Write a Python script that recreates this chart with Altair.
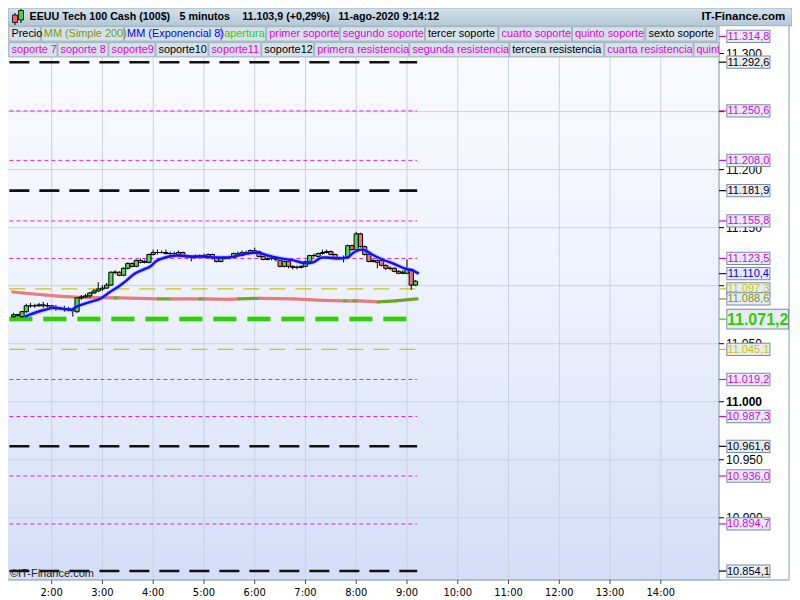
import altair as alt
import pandas as pd

DAY = "2020-08-11"

# ---------------- data ----------------
# 5-minute candles, 01:15 ... 09:10
opens = [11073.3, 11075.0, 11073.3, 11077.6, 11082.7, 11082.7, 11082.7, 11083.5, 11082.7, 11082.7,
         11081.0, 11080.1, 11080.1, 11080.1, 11079.3, 11077.6, 11089.5, 11090.3, 11091.2, 11093.7,
         11095.4, 11097.1, 11098.0, 11100.5, 11111.6, 11111.6, 11109.0, 11115.0, 11119.2, 11116.7,
         11121.8, 11120.1, 11120.1, 11126.9, 11128.6, 11128.6, 11128.6, 11127.7, 11127.7, 11126.9,
         11128.6, 11126.0, 11125.2, 11124.3, 11125.2, 11126.0, 11125.2, 11126.9, 11124.3, 11120.9,
         11123.5, 11124.3, 11124.3, 11127.7, 11126.0, 11128.6, 11128.6, 11130.3, 11129.4, 11125.2,
         11122.6, 11123.5, 11123.5, 11121.8, 11116.7, 11120.9, 11116.7, 11115.8, 11115.8, 11116.7,
         11120.9, 11126.0, 11125.2, 11127.7, 11128.6, 11129.4, 11126.9, 11124.3, 11123.5, 11124.3,
         11134.5, 11131.1, 11144.7, 11133.7, 11126.9, 11120.9, 11120.1, 11121.8, 11117.5, 11115.0,
         11115.0, 11112.4, 11110.7, 11110.7, 11114.1, 11100.5]
highs = [11076.7, 11075.9, 11078.4, 11084.4, 11085.2, 11084.4, 11085.2, 11086.1, 11085.2, 11083.5,
         11083.5, 11081.8, 11082.7, 11081.8, 11081.0, 11090.3, 11092.0, 11092.9, 11094.6, 11097.1,
         11103.1, 11100.5, 11102.3, 11112.4, 11113.3, 11112.4, 11115.8, 11120.1, 11120.1, 11122.6,
         11123.5, 11122.6, 11127.7, 11131.1, 11131.1, 11130.3, 11131.1, 11129.4, 11129.4, 11130.3,
         11129.4, 11126.9, 11126.0, 11126.9, 11126.9, 11127.7, 11127.7, 11127.7, 11125.2, 11124.3,
         11125.2, 11126.0, 11128.6, 11129.4, 11130.3, 11130.3, 11131.1, 11132.8, 11130.3, 11126.0,
         11124.3, 11125.2, 11124.3, 11122.6, 11121.8, 11121.8, 11117.5, 11117.5, 11117.5, 11121.8,
         11126.9, 11127.7, 11128.6, 11131.1, 11131.1, 11130.3, 11127.7, 11125.2, 11126.0, 11135.4,
         11135.4, 11146.4, 11145.6, 11134.5, 11127.7, 11123.5, 11122.6, 11122.6, 11118.4, 11116.7,
         11115.8, 11113.3, 11113.3, 11122.6, 11115.0, 11104.8]
lows = [11072.5, 11073.3, 11072.5, 11076.7, 11081.0, 11081.0, 11081.8, 11081.0, 11081.0, 11080.1,
        11078.4, 11079.3, 11077.6, 11078.4, 11073.3, 11076.7, 11087.8, 11089.5, 11089.5, 11092.9,
        11094.6, 11095.4, 11097.1, 11099.7, 11109.9, 11108.2, 11108.2, 11114.1, 11115.8, 11115.8,
        11119.2, 11119.2, 11119.2, 11126.0, 11126.9, 11127.7, 11126.9, 11126.0, 11126.9, 11126.0,
        11125.2, 11123.5, 11120.9, 11123.5, 11124.3, 11125.2, 11124.3, 11122.6, 11120.1, 11120.1,
        11122.6, 11122.6, 11123.5, 11125.2, 11125.2, 11126.9, 11127.7, 11128.6, 11124.3, 11121.8,
        11121.8, 11121.8, 11120.9, 11115.8, 11115.8, 11115.0, 11114.1, 11114.1, 11115.0, 11115.8,
        11120.1, 11124.3, 11124.3, 11126.9, 11127.7, 11126.0, 11123.5, 11122.6, 11120.1, 11123.5,
        11130.3, 11130.3, 11132.8, 11126.0, 11120.1, 11120.1, 11115.0, 11116.7, 11113.3, 11113.3,
        11111.6, 11109.9, 11109.9, 11109.9, 11096.3, 11099.7]
closes = [11075.0, 11074.2, 11077.6, 11082.7, 11082.7, 11082.7, 11083.5, 11082.7, 11082.7, 11081.0,
          11080.1, 11080.1, 11080.1, 11079.3, 11078.4, 11089.5, 11090.3, 11091.2, 11093.7, 11095.4,
          11097.1, 11098.0, 11100.5, 11111.6, 11111.6, 11109.0, 11115.0, 11119.2, 11116.7, 11121.8,
          11120.1, 11120.9, 11126.9, 11128.6, 11128.6, 11128.6, 11127.7, 11127.7, 11127.7, 11128.6,
          11126.0, 11125.2, 11124.3, 11125.2, 11126.0, 11126.0, 11126.9, 11124.3, 11120.9, 11123.5,
          11124.3, 11124.3, 11127.7, 11126.0, 11128.6, 11128.6, 11130.3, 11130.3, 11125.2, 11122.6,
          11123.5, 11123.5, 11122.6, 11116.7, 11120.9, 11116.7, 11115.8, 11115.8, 11116.7, 11120.9,
          11126.0, 11126.0, 11127.7, 11128.6, 11129.4, 11126.9, 11124.3, 11123.5, 11124.3, 11134.5,
          11131.1, 11144.7, 11133.7, 11126.9, 11120.9, 11121.8, 11121.8, 11117.5, 11115.0, 11115.0,
          11112.4, 11110.7, 11111.6, 11114.1, 11100.5, 11103.9]

# MM (Exponencial 8)
ema_times = ["01:28", "01:52", "02:03", "02:23", "02:29", "02:46", "02:57", "03:09", "03:20", "03:29",
             "03:37", "03:49", "03:57", "04:03", "04:11", "04:19", "04:29", "04:42", "04:57", "05:14",
             "05:29", "05:45", "06:03", "06:15", "06:31", "06:46", "07:01", "07:09", "07:20", "07:26",
             "07:37", "07:49", "07:57", "08:06", "08:11", "08:21", "08:31", "08:46", "08:57", "09:09",
             "09:14"]
ema_vals = [11073.3, 11079.3, 11081.0, 11079.3, 11081.8, 11086.1, 11088.6, 11094.6, 11099.7, 11104.8,
            11109.9, 11114.1, 11116.7, 11120.9, 11123.5, 11125.2, 11126.0, 11125.2, 11125.2, 11124.3,
            11124.3, 11126.9, 11128.6, 11126.0, 11123.5, 11121.8, 11119.2, 11120.1, 11124.3, 11124.3,
            11123.5, 11124.3, 11128.6, 11131.1, 11130.3, 11126.0, 11122.6, 11118.4, 11115.0, 11112.4,
            11110.4]

# MM (Simple 200): value and trend of the segment that starts at each point
sma_times = ["01:14", "01:26", "01:52", "02:11", "02:34", "03:15", "03:20", "04:06", "04:21", "04:55",
             "05:01", "05:31", "05:41", "06:06", "06:46", "07:20", "07:46", "07:51", "07:57", "08:02",
             "08:17", "08:26", "08:46", "09:12"]
sma_vals = [11094.6, 11093.7, 11092.0, 11090.8, 11090.0, 11089.5, 11089.5, 11088.6, 11088.6, 11088.6,
            11088.6, 11088.2, 11088.6, 11089.1, 11088.6, 11087.4, 11086.9, 11086.9, 11086.9, 11086.9,
            11086.5, 11086.1, 11086.9, 11088.6]
sma_trend = ["baja", "baja", "baja", "baja", "baja", "sube", "baja", "sube", "baja", "sube",
             "baja", "baja", "sube", "baja", "baja", "baja", "sube", "baja", "sube", "baja",
             "baja", "sube", "sube", "sube"]

# support / resistance levels
level_vals = [11314.8, 11292.6, 11250.6, 11208.0, 11181.9, 11155.8, 11123.5, 11097.3, 11071.2,
              11045.1, 11019.2, 10987.3, 10961.6, 10936.0, 10894.7, 10854.1]
level_kind = ["magenta", "negro", "magenta", "magenta", "negro", "magenta", "magenta", "amarillo",
              "verde", "amarillo", "magenta", "magenta", "negro", "magenta", "magenta", "negro"]
level_end = "09:12"

# indicator values shown on the price axis
ema_last = 11110.4
sma_last = 11088.6

hour_ticks = list(range(2, 15))
price_grid = [10900, 10950, 11000, 11050, 11100, 11150, 11200, 11250, 11300]
price_labels = [10900, 10950, 11000, 11050, 11150, 11200, 11300]

title_parts = ["EEUU Tech 100 Cash (100$)", "5 minutos", "11.103,9 (+0,29%)", "11-ago-2020 9:14:12"]
site = "IT-Finance.com"

legend_row1 = ["Precio", "MM (Simple 200)", "MM (Exponencial 8)", "apertura", "primer soporte",
               "segundo soporte", "tercer soporte", "cuarto soporte", "quinto soporte", "sexto soporte"]
legend_row1_col = ["negro", "oliva", "azul", "verde", "magenta", "magenta", "negro", "magenta",
                   "magenta", "negro"]
legend_row2 = ["soporte 7", "soporte 8", "soporte9", "soporte10", "soporte11", "soporte12",
               "primera resistencia", "segunda resistencia", "tercera resistencia",
               "cuarta resistencia", "quinta resistencia"]
legend_row2_col = ["magenta", "magenta", "magenta", "negro", "magenta", "negro", "magenta",
                   "magenta", "negro", "magenta", "magenta"]

# ---------------- layout / styles ----------------
SX = 784 / 800
SY = 592 / 600
W = 711
H = 572
Y_MIN, Y_MAX = 10846.4, 11339.3

COL = {"negro": "#000000", "magenta": "#e000e0", "amarillo": "#c8c800", "verde": "#33cc00",
       "azul": "#0000ff", "oliva": "#779910"}

legend_row1_x = [(1, 33), (34, 118), (119, 217), (218, 263), (264, 338), (339, 425), (426, 500),
                 (501, 575), (576, 649), (651, 723)]
legend_row2_x = [(1, 50), (51, 102), (103, 150), (151, 204), (205, 258), (259, 312), (313, 409),
                 (410, 511), (512, 608), (609, 699), (700, 760)]
title_x = [22, 175, 239, 337]

FONT = "Liberation Sans"
NARROW = "Liberation Sans Narrow, Arial Narrow, DejaVu Sans Condensed, Liberation Sans"


def ts(hhmm):
    return f"{DAY}T{hhmm}:00"


def es(v, dec=1):
    s = f"{v:,.{dec}f}"
    return s.replace(",", "_").replace(".", ",").replace("_", ".")


def dt(h, m=0, s=0):
    return alt.DateTime(year=2020, month=8, date=11, hours=h, minutes=m, seconds=s)


x_scale = alt.Scale(domain=[dt(1, 14, 17), dt(15, 2, 53)])
y_scale = alt.Scale(domain=[Y_MIN, Y_MAX], nice=False, zero=False)
one = pd.DataFrame({"k": [0]})


def X(f):
    return alt.X(f, scale=x_scale, axis=None, title=None)


def Y(f):
    return alt.Y(f, scale=y_scale, axis=None, title=None)


# ---------------- tables ----------------
times = pd.date_range(f"{DAY} 01:15", periods=len(closes), freq="5min").strftime("%Y-%m-%dT%H:%M:%S")
velas = pd.DataFrame({"t": times, "o": opens, "h": highs, "l": lows, "c": closes})
velas["dir"] = ["sube" if c > o else ("baja" if c < o else "igual") for o, c in zip(opens, closes)]

ema = pd.DataFrame({"t": [ts(x) for x in ema_times], "v": ema_vals})

sma_seg = pd.DataFrame({
    "t0": [ts(x) for x in sma_times[:-1]], "t1": [ts(x) for x in sma_times[1:]],
    "v0": sma_vals[:-1], "v1": sma_vals[1:], "trend": sma_trend[:-1]})

levels = pd.DataFrame({"v": level_vals, "kind": level_kind})
levels["t0"] = ts("01:10")
levels["t1"] = ts(level_end)

hours_df = pd.DataFrame({"t": [ts(f"{h:02d}:00") for h in hour_ticks],
                         "lab": [f"{h}:00" for h in hour_ticks]})
grid_df = pd.DataFrame({"v": price_grid})
prices_df = pd.DataFrame({"v": price_labels, "lab": [es(v, 0) for v in price_labels]})

# ---------------- layers ----------------
bg = alt.Chart(one).mark_rect(fill=alt.Gradient(
    gradient="linear", x1=0, y1=0, x2=0, y2=1,
    stops=[alt.GradientStop(color="#fbfcff", offset=0), alt.GradientStop(color="#eff3fd", offset=0.45),
           alt.GradientStop(color="#d3def7", offset=1)])).encode(
    x=alt.value(0), x2=alt.value(W), y=alt.value(0), y2=alt.value(H))

vgrid = alt.Chart(hours_df).mark_rule(color="#c9d2e0", strokeWidth=1).encode(x=X("t:T"))
hgrid = alt.Chart(grid_df).mark_rule(color="#c9d2e0", strokeWidth=1).encode(y=Y("v:Q"))

level_styles = {
    "magenta": dict(color="#e020e0", strokeWidth=1, strokeDash=[4, 3]),
    "amarillo": dict(color="#c8c810", strokeWidth=1.3, strokeDash=[16, 10]),
    "negro": dict(color="#111111", strokeWidth=2.6, strokeDash=[20, 10]),
}
level_layers = []
for kind, st in level_styles.items():
    level_layers.append(
        alt.Chart(levels).transform_filter(f"datum.kind == '{kind}'").mark_rule(clip=True, **st)
        .encode(x=X("t0:T"), x2="t1:T", y=Y("v:Q")))
level_layers.append(
    alt.Chart(levels).transform_filter("datum.kind == 'verde'")
    .mark_rule(clip=True, color="#a6ec8c", strokeWidth=6, strokeDash=[23, 11])
    .encode(x=X("t0:T"), x2="t1:T", y=Y("v:Q")))
level_layers.append(
    alt.Chart(levels).transform_filter("datum.kind == 'verde'")
    .mark_rule(clip=True, color="#33cc11", strokeWidth=4, strokeDash=[23, 11])
    .encode(x=X("t0:T"), x2="t1:T", y=Y("v:Q")))

sma = alt.Chart(sma_seg).mark_rule(strokeWidth=3.2, strokeCap="round").encode(
    x=X("t0:T"), x2="t1:T", y=Y("v0:Q"), y2="v1:Q",
    color=alt.Color("trend:N", scale=alt.Scale(domain=["baja", "sube"], range=["#e77c7c", "#6fa62a"]),
                    legend=None))

wicks = alt.Chart(velas).mark_rule(color="#000000", strokeWidth=1).encode(
    x=X("t:T"), y=Y("l:Q"), y2="h:Q")

bodies = alt.Chart(velas).mark_bar(width=4.2, stroke="#000000", strokeWidth=1).encode(
    x=X("t:T"), y=Y("o:Q"), y2="c:Q",
    fill=alt.Color("dir:N", scale=alt.Scale(domain=["sube", "baja", "igual"],
                                            range=["#4fd64f", "#f07272", "#000000"]), legend=None))

ema_halo = alt.Chart(ema).mark_line(color="#7b7bff", strokeWidth=4.5, opacity=0.35,
                                    interpolate="monotone").encode(x=X("t:T"), y=Y("v:Q"))
ema_line = alt.Chart(ema).mark_line(color="#1010ff", strokeWidth=2.4,
                                    interpolate="monotone").encode(x=X("t:T"), y=Y("v:Q"))

# axes drawn from the tick arrays
x_dom = alt.Chart(one).mark_rule(color="#8090a2", strokeWidth=1).encode(
    x=alt.value(0), x2=alt.value(797 * SX), y=alt.value(H))
x_ticks = alt.Chart(hours_df).mark_rule(color="#4a4a4a", strokeWidth=1).encode(
    x=X("t:T"), y=alt.value(H), y2=alt.value(H + 4))
x_labs = alt.Chart(hours_df).mark_text(font=NARROW, fontSize=11, color="#000000",
                                       baseline="middle", align="center").encode(
    x=X("t:T"), y=alt.value(593 * SY - 0.5), text="lab:N")

y_dom = alt.Chart(one).mark_rule(color="#8090a2", strokeWidth=1).encode(
    x=alt.value(W), y=alt.value(18 * SY), y2=alt.value(H))
y_ticks = alt.Chart(grid_df).mark_rule(color="#000000", strokeWidth=1).encode(
    x=alt.value(W), x2=alt.value(W + 5), y=Y("v:Q"))
y_labs = alt.Chart(prices_df).transform_filter("datum.v != 11000").mark_text(
    font=FONT, fontSize=12, color="#000000", align="left", baseline="middle").encode(
    x=alt.value(W + 7), y=Y("v:Q"), text="lab:N")
y_labs_b = alt.Chart(prices_df).transform_filter("datum.v == 11000").mark_text(
    font=FONT, fontSize=12, fontWeight="bold", color="#000000", align="left", baseline="middle").encode(
    x=alt.value(W + 7), y=Y("v:Q"), text="lab:N")

# header bar
header = alt.Chart(one).mark_rect(fill=alt.Gradient(
    gradient="linear", x1=0, y1=0, x2=0, y2=1,
    stops=[alt.GradientStop(color="#d3e2ec", offset=0), alt.GradientStop(color="#b3c8d6", offset=1)]),
    stroke="#8ea4b4", strokeWidth=0.8).encode(
    x=alt.value(0), x2=alt.value(784), y=alt.value(0), y2=alt.value(18 * SY))

icon = pd.DataFrame({"x0": [4.5, 10.5], "x1": [9.5, 15.5], "y0": [7, 2.5], "y1": [14.5, 12],
                     "w0": [5, 1], "w1": [17, 15], "wx": [7, 13], "c": ["#f06060", "#40d040"]})
icon_w = alt.Chart(icon).mark_rule(color="#000000").encode(
    x=alt.X("wx:Q", scale=None, axis=None), y=alt.Y("w0:Q", scale=None, axis=None),
    y2="w1:Q")
icon_b = alt.Chart(icon).mark_rect(stroke="#000000", strokeWidth=0.8).encode(
    x=alt.X("x0:Q", scale=None, axis=None), x2="x1:Q",
    y=alt.Y("y0:Q", scale=None, axis=None), y2="y1:Q",
    fill=alt.Color("c:N", scale=None))

title_df = pd.DataFrame({"txt": title_parts, "x": [v * SX for v in title_x]})
title_txt = alt.Chart(title_df).mark_text(align="left", baseline="middle", font=FONT, fontSize=10.7,
                                          fontWeight="bold", color="#000000").encode(
    x=alt.X("x:Q", scale=None, axis=None), y=alt.value(9.3 * SY), text="txt:N")
site_txt = alt.Chart(pd.DataFrame({"txt": [site]})).mark_text(
    align="right", baseline="middle", font=FONT, fontSize=11.5, fontWeight="bold", color="#000000").encode(
    x=alt.value(793 * SX), y=alt.value(9.3 * SY), text="txt:N")

# legend strip
strip = alt.Chart(one).mark_rect(fill="#b9cad7").encode(
    x=alt.value(0), x2=alt.value(W), y=alt.value(18 * SY), y2=alt.value(50 * SY))
cells = pd.DataFrame({
    "txt": legend_row1 + legend_row2,
    "col": [COL[c] for c in legend_row1_col + legend_row2_col],
    "x0": [a * SX for a, b in legend_row1_x + legend_row2_x],
    "x1": [min(b * SX, W) for a, b in legend_row1_x + legend_row2_x],
    "y0": [19 * SY] * len(legend_row1) + [35 * SY] * len(legend_row2),
    "y1": [33.5 * SY] * len(legend_row1) + [49.5 * SY] * len(legend_row2),
})
cells["xt"] = cells["x0"] + 2.5
cells["yc"] = (cells["y0"] + cells["y1"]) / 2
cell_rect = alt.Chart(cells).mark_rect(fill="#d7e1ea", stroke="#9aacba", strokeWidth=0.8).encode(
    x=alt.X("x0:Q", scale=None, axis=None), x2="x1:Q",
    y=alt.Y("y0:Q", scale=None, axis=None), y2="y1:Q")
cell_txt = alt.Chart(cells).mark_text(align="left", baseline="middle", font=FONT, fontSize=10.9,
                                      clip=True).encode(
    x=alt.X("xt:Q", scale=None, axis=None), y=alt.Y("yc:Q", scale=None, axis=None),
    text="txt:N", color=alt.Color("col:N", scale=None))

# price-axis panel border
panel_v = alt.Chart(one).mark_rule(color="#8a9aab", strokeWidth=1).encode(
    x=alt.value(797 * SX), y=alt.value(18 * SY), y2=alt.value(H))

# value boxes on the price axis
box_rows = [(v, COL[k]) for v, k in zip(level_vals, level_kind)]
box_rows += [(ema_last, COL["azul"]), (sma_last, COL["oliva"])]
boxes = pd.DataFrame({"v": [r[0] for r in box_rows], "col": [r[1] for r in box_rows]})
boxes["txt"] = [es(v) for v in boxes["v"]]
boxes["grp"] = ["big" if v == 11071.2 else ("late" if v == sma_last else "norm") for v in boxes["v"]]
boxes = boxes.sort_values("v", ascending=False)

ticks = alt.Chart(boxes).mark_rule(strokeWidth=1.2).encode(
    x=alt.value(W), x2=alt.value(733 * SX), y=Y("v:Q"), color=alt.Color("col:N", scale=None))


def box_layers(grp, x0, x1, h, cx, fs, fw):
    src = alt.Chart(boxes).transform_filter(f"datum.grp == '{grp}'")
    border = src.mark_rule(color="#7a8b9c", strokeWidth=h).encode(
        x=alt.value(x0), x2=alt.value(x1), y=Y("v:Q"))
    fill = src.mark_rule(color="#e6ebf7", strokeWidth=h - 2).encode(
        x=alt.value(x0 + 1), x2=alt.value(x1 - 1), y=Y("v:Q"))
    txt = src.mark_text(align="center", baseline="middle", font=FONT, fontSize=fs, fontWeight=fw,
                        dy=0.5).encode(
        x=alt.value(cx), y=Y("v:Q"), text="txt:N", color=alt.Color("col:N", scale=None))
    return [border, fill, txt]


bx0, bx1 = 733 * SX, 778 * SX
gx0, gx1 = 733 * SX, 797 * SX
label_layers = (box_layers("norm", bx0, bx1, 13.5 * SY, (bx0 + bx1) / 2, 11, "normal")
                + box_layers("late", bx0, bx1, 13.5 * SY, (bx0 + bx1) / 2, 11, "normal")
                + box_layers("big", gx0, gx1, 21 * SY, (gx0 + gx1) / 2, 16, "bold"))

watermark = alt.Chart(pd.DataFrame({"txt": ["©IT-Finance.com"]})).mark_text(
    align="left", baseline="middle", font=FONT, fontSize=11, color="#222222").encode(
    x=alt.value(2), y=alt.value(574 * SY), text="txt:N")

chart = alt.layer(
    bg, vgrid, hgrid, *level_layers, sma, wicks, bodies, ema_halo, ema_line,
    x_dom, x_ticks, x_labs, y_dom, y_ticks, y_labs, y_labs_b,
    header, icon_w, icon_b, title_txt, site_txt, strip, cell_rect, cell_txt,
    panel_v, ticks, *label_layers, watermark
).properties(
    width=W, height=H,
    autosize=alt.AutoSizeParams(type="none"),
    padding={"left": 0, "top": 0, "right": 784 - W, "bottom": 592 - H},
).configure_view(strokeWidth=0)

chart.save("out.html", embed_options={"renderer": "svg", "actions": False})
